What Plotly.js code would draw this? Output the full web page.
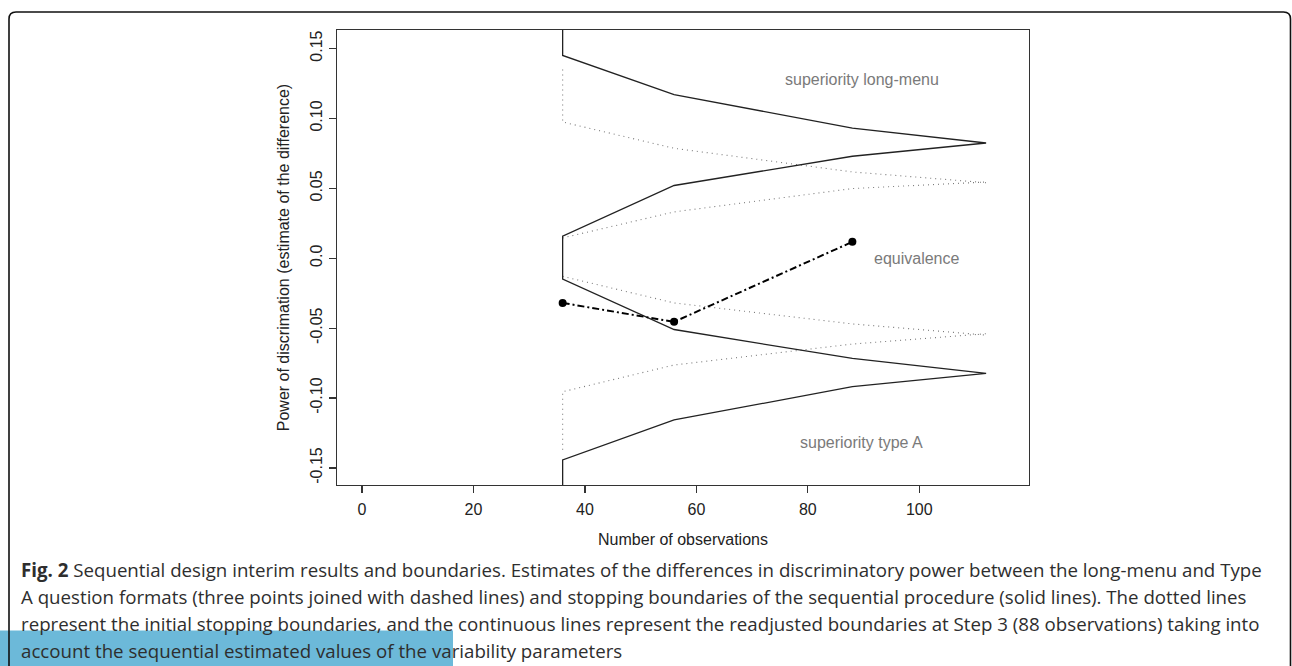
<!DOCTYPE html>
<html>
<head>
<meta charset="utf-8">
<script src="https://cdn.plot.ly/plotly-3.0.1.min.js"></script>
<style>
  html, body { margin: 0; padding: 0; background: #ffffff; }
  #chart { width: 1292px; height: 666px; }
</style>
</head>
<body>
<div id="chart"></div>
<script>
// ---------------- data ----------------
// interim estimates (three looks)
const obs = [36, 56, 88];
const estimates = [-0.032, -0.0455, 0.0117];

// readjusted (continuous) stopping boundaries
const adjSteps = [36, 56, 88, 112];
const adjUpperOuter = [0.145, 0.117, 0.093, 0.0824];
const adjUpperInner = [0.0157, 0.052, 0.0729, 0.0824];
const adjLowerInner = [-0.015, -0.051, -0.0717, -0.0824];
const adjLowerOuter = [-0.1443, -0.1157, -0.0919, -0.0824];
const adjOuterLimit = 0.2;   // outer boundary continues beyond the plotted range at the first look

// initial (dotted) stopping boundaries
const initSteps = [36, 56, 88, 112];
const initUpperOuter = [0.0974, 0.0786, 0.0617, 0.054];
const initUpperInner = [0.0145, 0.0331, 0.0498, 0.0545];
const initLowerInner = [-0.013, -0.032, -0.047, -0.055];
const initLowerOuter = [-0.0955, -0.0764, -0.0614, -0.054];
const initOuterStart = [0.135, -0.137];

// tick labels
const xTicks = [0, 20, 40, 60, 80, 100];
const yTicks = [-0.15, -0.10, -0.05, 0.0, 0.05, 0.10, 0.15];
const yTickText = ["-0.15", "-0.10", "-0.05", "0.0", "0.05", "0.10", "0.15"];

// region labels
const regionLabels = ["superiority long-menu", "equivalence", "superiority type A"];
const regionX = [89.7, 99.6, 89.7];
const regionY = [0.128, 0.0, -0.132];

const captionLines = [
  "<b>Fig. 2</b> Sequential design interim results and boundaries. Estimates of the differences in discriminatory power between the long-menu and Type",
  "A question formats (three points joined with dashed lines) and stopping boundaries of the sequential procedure (solid lines). The dotted lines",
  "represent the initial stopping boundaries, and the continuous lines represent the readjusted boundaries at Step 3 (88 observations) taking into",
  "account the sequential estimated values of the variability parameters"
];

// ---------------- build ----------------
const rev = a => a.slice().reverse();

// one continuous solid path: outer top -> tip -> inner top -> inner bottom -> tip -> outer bottom
const solidX = [adjSteps[0]].concat(adjSteps, rev(adjSteps), adjSteps, rev(adjSteps), [adjSteps[0]]);
const solidY = [adjOuterLimit].concat(adjUpperOuter, rev(adjUpperInner), adjLowerInner, rev(adjLowerOuter), [-adjOuterLimit]);

const dotStyle = {color: '#7a7a7a', width: 1.1, dash: '1px,4px'};

const traces = [
  {x: [initSteps[0]].concat(initSteps), y: [initOuterStart[0]].concat(initUpperOuter),
   mode: 'lines', line: dotStyle, hoverinfo: 'skip'},
  {x: initSteps, y: initUpperInner, mode: 'lines', line: dotStyle, hoverinfo: 'skip'},
  {x: initSteps, y: initLowerInner, mode: 'lines', line: dotStyle, hoverinfo: 'skip'},
  {x: [initSteps[0]].concat(initSteps), y: [initOuterStart[1]].concat(initLowerOuter),
   mode: 'lines', line: dotStyle, hoverinfo: 'skip'},
  {x: solidX, y: solidY, mode: 'lines', line: {color: '#222222', width: 1.3}, hoverinfo: 'skip'},
  {x: obs, y: estimates, mode: 'lines+markers',
   line: {color: '#000000', width: 2, dash: '7px,3px,2px,3px'},
   marker: {color: '#000000', size: 8, symbol: 'circle'}}
];

// pixel -> paper helpers (plot area: x 337..1029, y 30..485)
const L = 337, R = 263, T = 30, B = 181, W = 1292, H = 666;
const pw = W - L - R, ph = H - T - B;
const pxX = p => (p - L) / pw;
const pxY = p => (H - B - p) / ph;

const axisFont = {family: 'Liberation Sans, Arial, sans-serif', size: 16, color: '#222222'};

const annotations = regionLabels.map((t, i) => ({
  x: regionX[i], y: regionY[i], xref: 'x', yref: 'y', text: t, showarrow: false,
  font: {family: 'Liberation Sans, Arial, sans-serif', size: 16, color: '#7a7a7a'},
  xanchor: 'center', yanchor: 'middle'
}));

const captionBase = [569, 596, 623, 650];
captionLines.forEach((t, i) => {
  annotations.push({
    x: pxX(19), y: pxY(captionBase[i]), xref: 'paper', yref: 'paper', text: t,
    showarrow: false, xanchor: 'left', yanchor: 'middle', align: 'left',
    font: {family: 'Open Sans, sans-serif', size: 18.7, color: '#2e2e2e'}
  });
});

// rounded outer frame
const r = 7;
const fx0 = 9, fy0 = 12, fx1 = 1290.5, fy1 = 700;
const framePath =
  'M ' + pxX(fx0) + ' ' + pxY(fy1) +
  ' L ' + pxX(fx0) + ' ' + pxY(fy0 + r) +
  ' Q ' + pxX(fx0) + ' ' + pxY(fy0) + ' ' + pxX(fx0 + r) + ' ' + pxY(fy0) +
  ' L ' + pxX(fx1 - r) + ' ' + pxY(fy0) +
  ' Q ' + pxX(fx1) + ' ' + pxY(fy0) + ' ' + pxX(fx1) + ' ' + pxY(fy0 + r) +
  ' L ' + pxX(fx1) + ' ' + pxY(fy1);

const shapes = [
  {type: 'rect', xref: 'paper', yref: 'paper', x0: pxX(-5), x1: pxX(453), y0: pxY(630.5), y1: pxY(680),
   fillcolor: '#6cb9d9', line: {width: 0}, layer: 'below'},
  {type: 'path', xref: 'paper', yref: 'paper', path: framePath,
   line: {color: '#111111', width: 1.6}, layer: 'above'}
];

const layout = {
  width: W, height: H,
  margin: {l: L, r: R, t: T, b: B, pad: 0},
  paper_bgcolor: 'rgba(0,0,0,0)', plot_bgcolor: 'rgba(0,0,0,0)',
  showlegend: false,
  xaxis: {
    range: [-4.5, 119.7], tickvals: xTicks, ticktext: xTicks.map(String),
    showgrid: false, zeroline: false, showline: true, mirror: true,
    linecolor: '#333333', linewidth: 1.3, ticks: 'outside', ticklen: 7, tickwidth: 1.2, tickcolor: '#333333',
    tickfont: axisFont, automargin: false, ticklabelstandoff: 2,
    title: {text: 'Number of observations', font: axisFont, standoff: 17}
  },
  yaxis: {
    range: [-0.1622, 0.1632], tickvals: yTicks, ticktext: yTickText, tickangle: -90,
    showgrid: false, zeroline: false, showline: true, mirror: true,
    linecolor: '#333333', linewidth: 1.3, ticks: 'outside', ticklen: 7, tickwidth: 1.2, tickcolor: '#333333',
    tickfont: axisFont, automargin: false,
    title: {text: 'Power of discrimation (estimate of the difference)', font: axisFont, standoff: 14}
  },
  annotations: annotations,
  shapes: shapes
};

Plotly.newPlot('chart', traces, layout, {displayModeBar: false, staticPlot: true});
</script>
</body>
</html>
